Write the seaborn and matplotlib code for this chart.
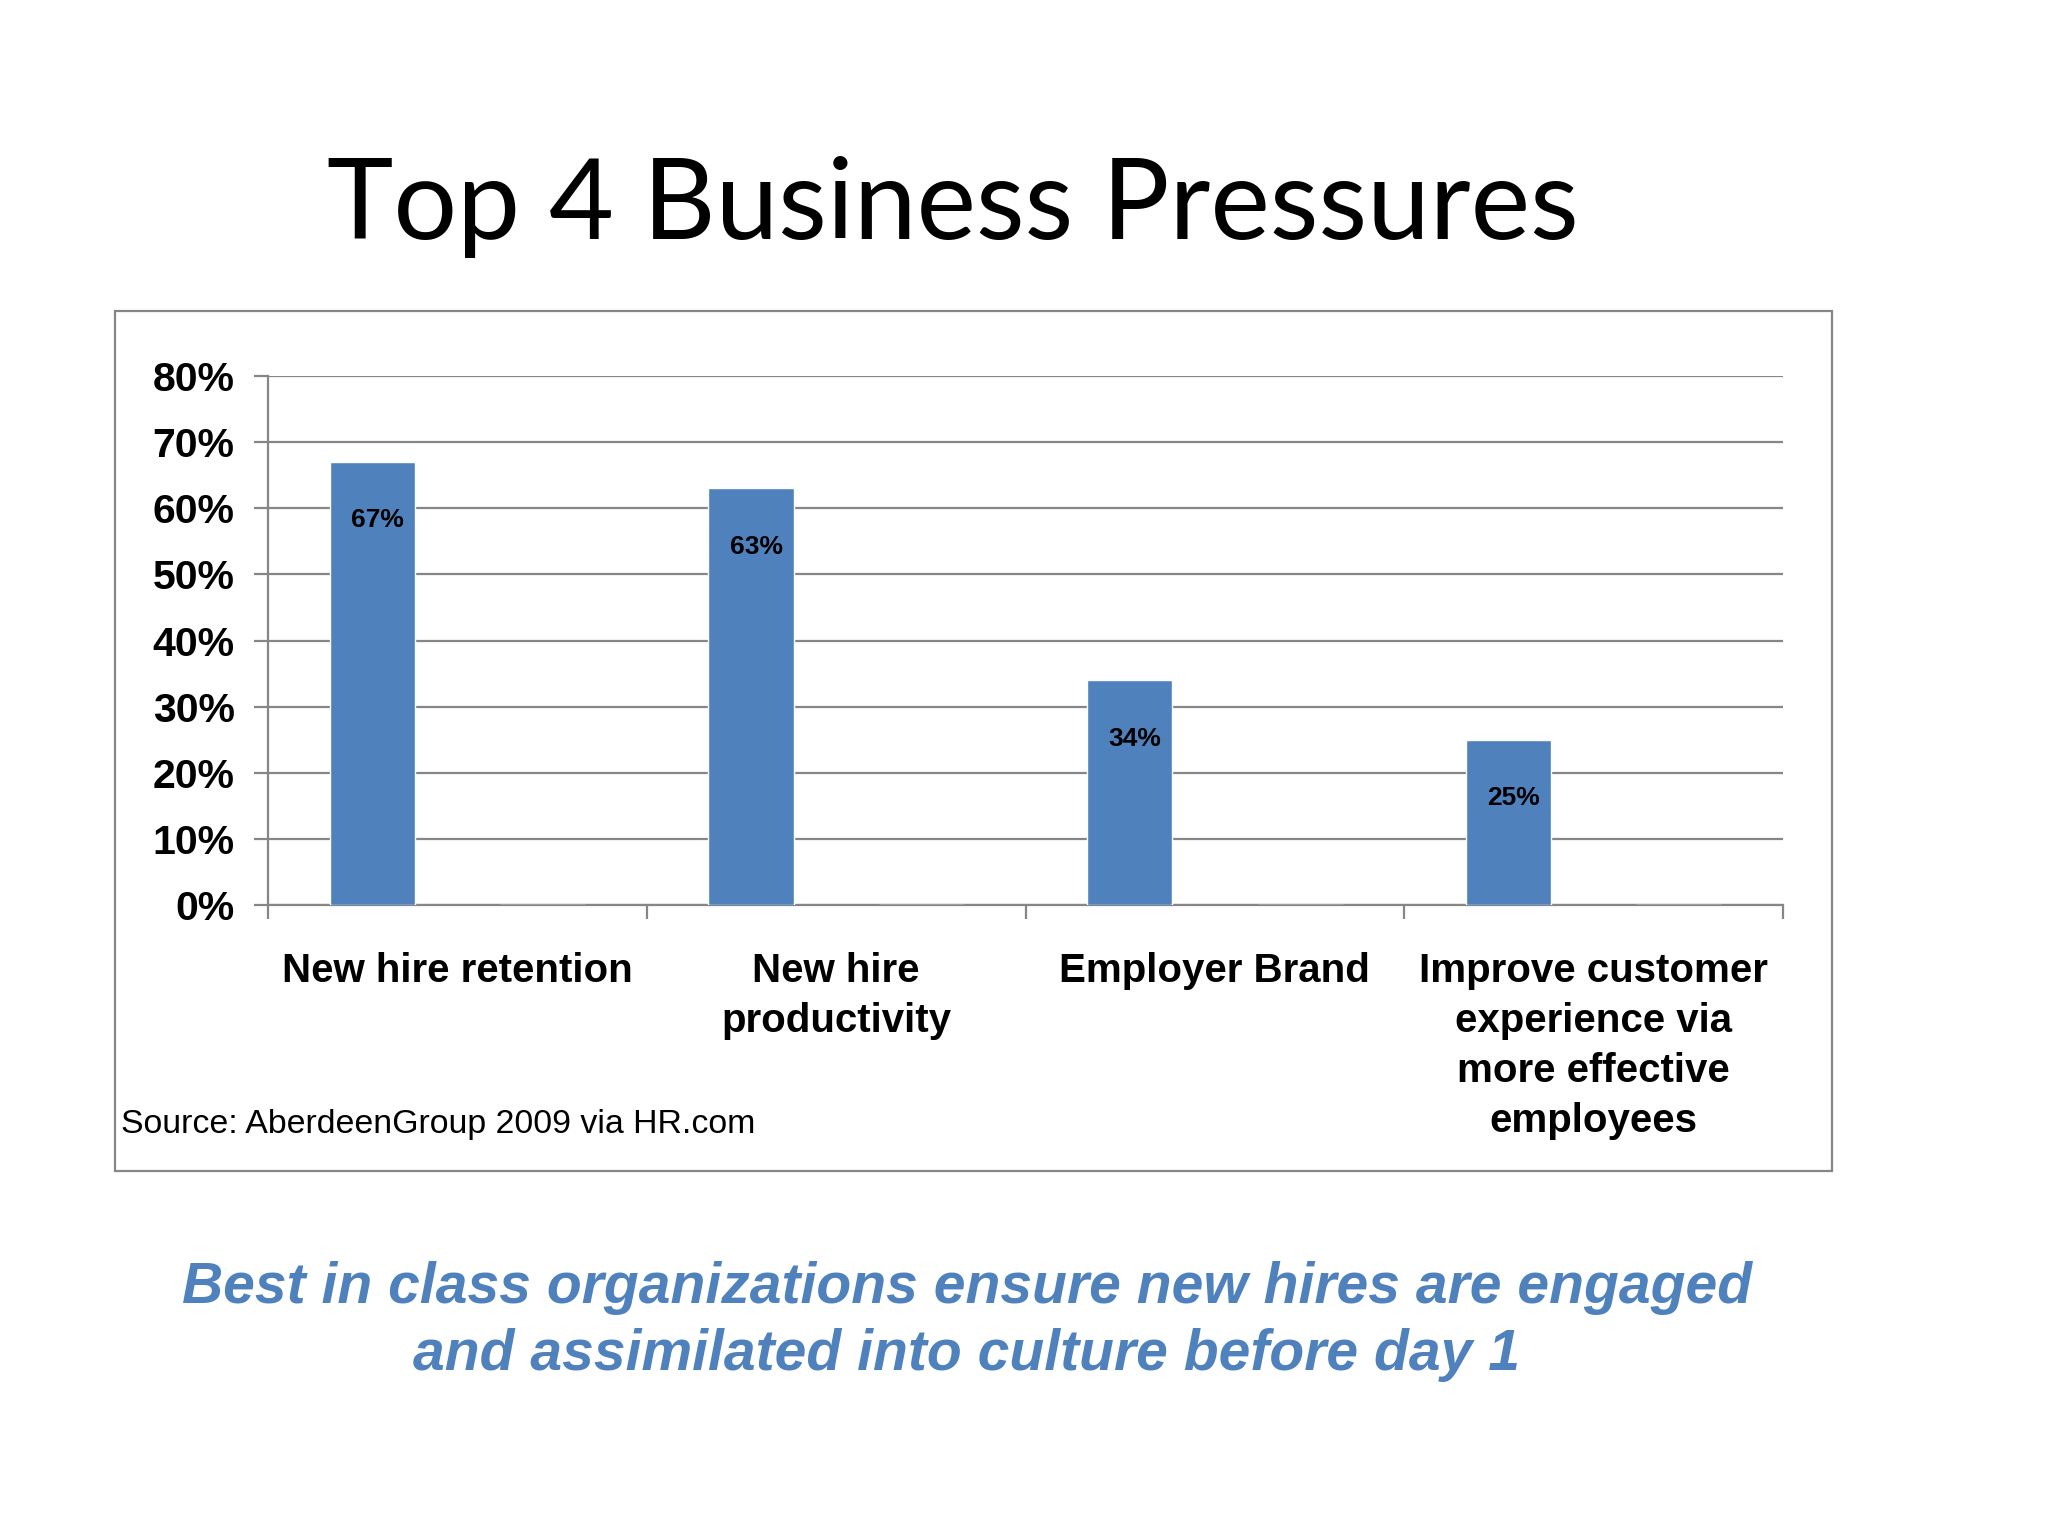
import matplotlib
matplotlib.use("Agg")
import matplotlib.pyplot as plt
import matplotlib.patches as mpatches
import seaborn as sns
import numpy as np
import pandas as pd

categories = ["New hire retention", "New hire\nproductivity", "Employer Brand",
              "Improve customer\nexperience via\nmore effective\nemployees"]
values = [0.67, 0.63, 0.34, 0.25]
bar_labels = ["67%", "63%", "34%", "25%"]
yticks = [0.0, 0.1, 0.2, 0.3, 0.4, 0.5, 0.6, 0.7, 0.8]
ytick_labels = ["0%", "10%", "20%", "30%", "40%", "50%", "60%", "70%", "80%"]

title = "Top 4 Business Pressures"
source = "Source: AberdeenGroup 2009 via HR.com"
subtitle = "Best in class organizations ensure new hires are engaged\nand assimilated into culture before day 1"

blue = "#4F81BD"
grey = "#868686"

sns.set_style("white")
plt.rcParams["font.family"] = ["Liberation Sans", "DejaVu Sans"]
plt.rcParams["text.color"] = "black"
plt.rcParams["xtick.labelcolor"] = "black"
plt.rcParams["ytick.labelcolor"] = "black"

# second (empty) series reproduces the Excel dodge position of the bars
df = pd.DataFrame({
    "cat": categories * 2,
    "val": values + [0.0] * len(values),
    "series": ["a"] * len(values) + ["b"] * len(values),
})

fig = plt.figure(figsize=(20.48, 15.36), dpi=100)
fig.patch.set_facecolor("white")

# outer chart frame
frame = mpatches.Rectangle((0.0562, 0.2376), 0.8383, 0.5599, transform=fig.transFigure,
                           fill=False, edgecolor=grey, linewidth=1.6, zorder=0)
fig.patches.append(frame)

ax = fig.add_axes([0.1309, 0.4108, 0.7397, 0.3444])
sns.barplot(data=df, x="cat", y="val", hue="series", palette=[blue, blue],
            width=0.9, gap=0.5, saturation=1, legend=False, ax=ax, zorder=3)

ax.set_ylim(0, 0.8)
ax.set_xlim(-0.5, len(categories) - 0.5)
ax.set_yticks(yticks)
ax.set_yticklabels(ytick_labels, fontsize=29.5, fontweight="bold")
ax.yaxis.grid(True, color=grey, linewidth=1.6, zorder=0)
ax.set_axisbelow(True)
ax.tick_params(axis="y", length=10, width=1.6, color=grey, pad=14, left=True)

ax.set_xticks(range(len(categories)))
ax.set_xticklabels(categories, fontsize=29, fontweight="bold", linespacing=1.4, va="top")
ax.tick_params(axis="x", which="major", length=0, pad=34)
ax.set_xticks(np.arange(-0.5, len(categories)), minor=True)
ax.tick_params(axis="x", which="minor", length=10, width=1.6, color=grey, bottom=True)

for s in ["top", "right"]:
    ax.spines[s].set_visible(False)
for s in ["left", "bottom"]:
    ax.spines[s].set_color(grey)
    ax.spines[s].set_linewidth(1.6)
ax.set_xlabel("")
ax.set_ylabel("")

bars = ax.containers[0]
for rect, lab in zip(bars.patches, bar_labels):
    ax.annotate(lab, (rect.get_x() + rect.get_width() / 2, rect.get_height()),
                xytext=(4, -42), textcoords="offset points", ha="center", va="center",
                fontsize=19, fontweight="bold", zorder=5)

fig.text(0.0591, 0.268, source, fontsize=24.4, ha="left", va="center")

fig.text(0.4655, 0.8655, title, fontsize=81, ha="center", va="center",
         family=["Lato", "DejaVu Sans"])

fig.text(0.472, 0.1398, subtitle, fontsize=41, ha="center", va="center",
         fontweight="bold", style="italic", color=blue, linespacing=1.3)

fig.savefig("out.png", dpi=100, facecolor="white")
